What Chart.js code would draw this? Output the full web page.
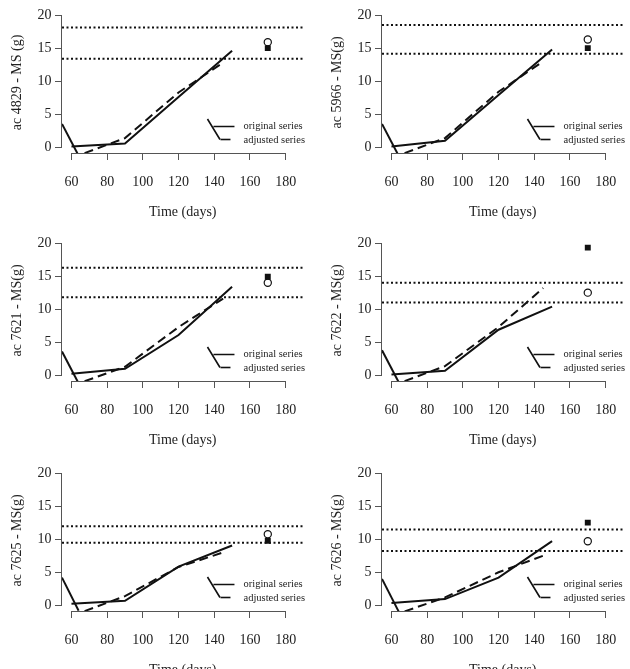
<!DOCTYPE html>
<html>
<head>
<meta charset="utf-8">
<script src="https://cdn.jsdelivr.net/npm/chart.js@4"></script>
<style>
  html, body { margin: 0; padding: 0; background: #fff; }
  body { width: 630px; height: 669px; position: relative; overflow: hidden; }
  .panel { position: absolute; width: 310px; height: 229px; }
</style>
</head>
<body>
<div class="panel" style="left:0;top:0"><canvas id="c0" width="310" height="229"></canvas></div>
<div class="panel" style="left:320px;top:0"><canvas id="c1" width="310" height="229"></canvas></div>
<div class="panel" style="left:0;top:228px"><canvas id="c2" width="310" height="229"></canvas></div>
<div class="panel" style="left:320px;top:228px"><canvas id="c3" width="310" height="229"></canvas></div>
<div class="panel" style="left:0;top:457.5px"><canvas id="c4" width="310" height="229"></canvas></div>
<div class="panel" style="left:320px;top:457.5px"><canvas id="c5" width="310" height="229"></canvas></div>
<script>
// accession labels, one per panel
const panelLabels = ['ac 4829 - MS (g)', 'ac 5966 - MS(g)', 'ac 7621 - MS(g)', 'ac 7622 - MS(g)', 'ac 7625 - MS(g)', 'ac 7626 - MS(g)'];

// axis ticks
const xTicks = [60, 80, 100, 120, 140, 160, 180];
const yTicks = [0, 5, 10, 15, 20];

// original series (solid)
const originalDays = [60, 90, 120, 150];
const originalValues = [
  [0.15, 0.6, 7.6, 14.6],
  [0.15, 1.0, 7.9, 14.8],
  [0.25, 1.0, 6.1, 13.4],
  [0.15, 0.7, 6.9, 10.4],
  [0.25, 0.7, 5.85, 9.05],
  [0.35, 0.95, 4.2, 9.7]
];

// adjusted series (dashed)
const adjustedDays = [60, 90, 120, 145];
const adjustedValues = [
  [-1.6, 1.4, 8.3, 12.8],
  [-1.6, 1.4, 8.4, 13.0],
  [-1.6, 1.3, 7.3, 11.6],
  [-1.6, 1.4, 7.3, 13.2],
  [-1.6, 1.4, 5.8, 8.0],
  [-1.6, 1.2, 5.0, 7.5]
];

// steep start segment (solid)
const steepDays = [54.7, 64];
const steepValues = [
  [3.55, -1.25],
  [3.55, -1.25],
  [3.6, -1.2],
  [3.8, -1.0],
  [4.2, -0.8],
  [4.0, -0.9]
];

// horizontal dotted reference lines
const upperRef = [18.1, 18.5, 16.25, 14.0, 11.95, 11.45];
const lowerRef = [13.4, 14.15, 11.8, 11.0, 9.45, 8.2];

// observed points at day 170
const observedDay = 170;
const circleValues = [15.9, 16.3, 14.0, 12.5, 10.75, 9.7];
const squareValues = [15.0, 15.0, 14.9, 19.3, 9.75, 12.5];

const xMin = 54.7, xMax = 190;
const yMin = -0.85, yMax = 20.47;

const serif = "'Liberation Serif', 'DejaVu Serif', serif";
const axisColor = '#555';
const textColor = '#222';
const ink = '#111';

const toPoints = (xs, ys) => xs.map((x, i) => ({ x: x, y: ys[i] }));

// R-like axes (line only from first to last tick) + legend
const rStyle = {
  id: 'rStyle',
  afterDraw(chart) {
    const { ctx, chartArea: ca, scales: { x, y } } = chart;
    ctx.save();
    ctx.strokeStyle = axisColor;
    ctx.lineWidth = 1;
    ctx.beginPath();
    ctx.moveTo(x.getPixelForValue(xTicks[0]), Math.round(x.top) + 0.5);
    ctx.lineTo(x.getPixelForValue(xTicks[xTicks.length - 1]), Math.round(x.top) + 0.5);
    ctx.moveTo(Math.round(y.right) - 0.5, y.getPixelForValue(yTicks[0]));
    ctx.lineTo(Math.round(y.right) - 0.5, y.getPixelForValue(yTicks[yTicks.length - 1]));
    ctx.stroke();

    // legend
    const orig = chart.data.datasets.find(d => d.label === 'original series');
    const adj = chart.data.datasets.find(d => d.label === 'adjusted series');
    const lx = ca.right - 96, ly = ca.bottom - 34;
    ctx.strokeStyle = ink;
    ctx.lineWidth = 1.6;
    ctx.beginPath();
    ctx.moveTo(lx, ly);
    ctx.lineTo(lx + 12.5, ly + 20.5);
    ctx.moveTo(lx + 6, ly + 7.5);
    ctx.lineTo(lx + 27, ly + 7.5);
    ctx.stroke();
    ctx.setLineDash([10, 5]);
    ctx.beginPath();
    ctx.moveTo(lx + 13, ly + 20.5);
    ctx.lineTo(lx + 24, ly + 20.5);
    ctx.stroke();
    ctx.setLineDash([]);
    ctx.fillStyle = textColor;
    ctx.font = '10.5px ' + serif;
    ctx.textBaseline = 'middle';
    ctx.textAlign = 'left';
    ctx.fillText(orig.label, lx + 36, ly + 7.5);
    ctx.fillText(adj.label, lx + 36, ly + 21);
    ctx.restore();
  }
};

function makeChart(i) {
  const lineBase = { pointRadius: 0, borderColor: ink, borderWidth: 2, fill: false, tension: 0, clip: 0 };
  new Chart(document.getElementById('c' + i), {
    type: 'line',
    data: {
      datasets: [
        Object.assign({}, lineBase, { label: 'upper', data: toPoints([xMin, xMax], [upperRef[i], upperRef[i]]), borderDash: [2, 2.5] }),
        Object.assign({}, lineBase, { label: 'lower', data: toPoints([xMin, xMax], [lowerRef[i], lowerRef[i]]), borderDash: [2, 2.5] }),
        Object.assign({}, lineBase, { label: 'start', data: toPoints(steepDays, steepValues[i]) }),
        Object.assign({}, lineBase, { label: 'original series', data: toPoints(originalDays, originalValues[i]) }),
        Object.assign({}, lineBase, { label: 'adjusted series', data: toPoints(adjustedDays, adjustedValues[i]), borderDash: [9, 5] }),
        { label: 'square', data: [{ x: observedDay, y: squareValues[i] }], showLine: false, pointStyle: 'rect',
          pointRadius: 4.2, backgroundColor: ink, borderColor: ink, borderWidth: 0 },
        { label: 'circle', data: [{ x: observedDay, y: circleValues[i] }], showLine: false, pointStyle: 'circle',
          pointRadius: 3.6, backgroundColor: '#fff', borderColor: ink, borderWidth: 1.2 }
      ]
    },
    options: {
      responsive: false,
      animation: false,
      events: [],
      layout: { padding: { left: 0, right: 5, top: 2.5, bottom: 0 }, autoPadding: false },
      plugins: { legend: { display: false }, tooltip: { enabled: false } },
      scales: {
        x: {
          type: 'linear', min: xMin, max: xMax,
          afterBuildTicks: s => { s.ticks = xTicks.map(v => ({ value: v })); },
          afterFit: s => { s.height = 76; },
          border: { display: false },
          grid: { drawOnChartArea: false, drawTicks: true, tickLength: 7, color: axisColor, lineWidth: 1 },
          ticks: { font: { family: serif, size: 14 }, color: textColor, padding: 13.5, maxRotation: 0, autoSkip: false },
          title: { display: true, text: 'Time (days)', font: { family: serif, size: 14 }, color: textColor, padding: { top: 0, bottom: 7.8 } }
        },
        y: {
          type: 'linear', min: yMin, max: yMax,
          afterBuildTicks: s => { s.ticks = yTicks.map(v => ({ value: v })); },
          afterFit: s => { s.width = 62; },
          border: { display: false },
          grid: { drawOnChartArea: false, drawTicks: true, tickLength: 7, color: axisColor, lineWidth: 1 },
          ticks: { font: { family: serif, size: 14 }, color: textColor, padding: 3.5, autoSkip: false },
          title: { display: true, text: panelLabels[i], font: { family: serif, size: 14 }, color: textColor, padding: { top: 8.6, bottom: 0 } }
        }
      }
    },
    plugins: [rStyle]
  });
}

for (let i = 0; i < 6; i++) makeChart(i);
</script>
</body>
</html>
